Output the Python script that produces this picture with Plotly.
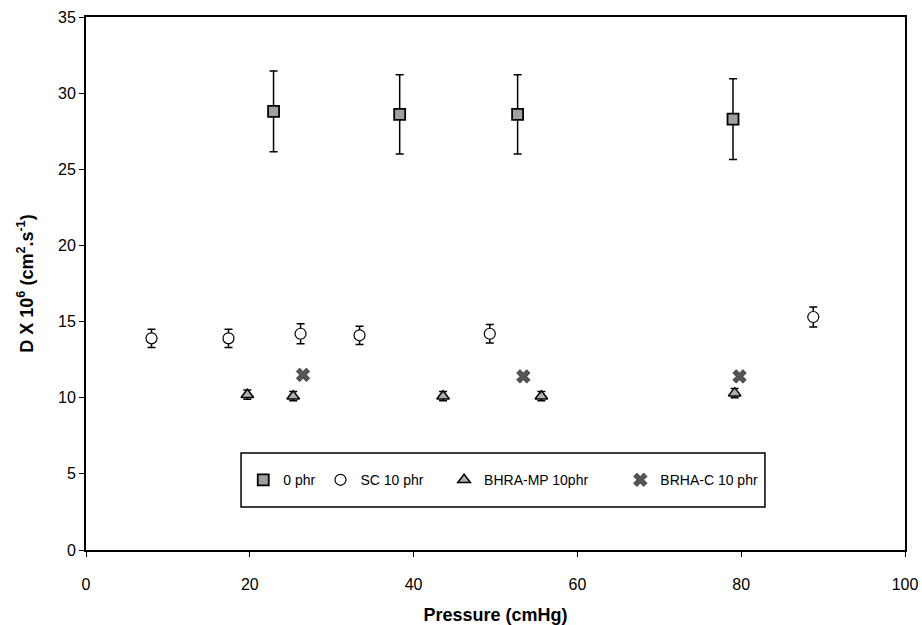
import plotly.graph_objects as go

# 0 phr
p0_x = [22.9, 38.3, 52.7, 79.0]
p0_y = [28.8, 28.6, 28.6, 28.3]
p0_err = [2.65, 2.6, 2.6, 2.65]

# SC 10 phr
sc_x = [8.0, 17.4, 26.2, 33.4, 49.3, 88.8]
sc_y = [13.9, 13.9, 14.2, 14.1, 14.2, 15.3]
sc_err = [0.6, 0.6, 0.65, 0.6, 0.6, 0.65]

# BHRA-MP 10phr
mp_x = [19.7, 25.3, 43.6, 55.6, 79.2]
mp_y = [10.2, 10.1, 10.1, 10.1, 10.3]
mp_err = [0.3, 0.3, 0.3, 0.3, 0.3]

# BRHA-C 10 phr
c_x = [26.5, 53.4, 79.8]
c_y = [11.5, 11.4, 11.4]

names = ["0 phr", "SC 10 phr", "BHRA-MP 10phr", "BRHA-C 10 phr"]
pad = ["", "\u00a0" * 4, "\u00a0" * 7, ""]

eb = dict(type="data", color="black", thickness=1.5, width=4)

fig = go.Figure()
fig.add_trace(go.Scatter(
    x=p0_x, y=p0_y, mode="markers", name=names[0] + pad[0],
    error_y=dict(array=p0_err, **eb),
    marker=dict(symbol="square", size=11, color="#a0a0a0", line=dict(color="black", width=1.8))))
fig.add_trace(go.Scatter(
    x=sc_x, y=sc_y, mode="markers", name=names[1] + pad[1],
    error_y=dict(array=sc_err, **eb),
    marker=dict(symbol="circle", size=11, color="white", line=dict(color="black", width=1.2))))
fig.add_trace(go.Scatter(
    x=mp_x, y=mp_y, mode="markers", name=names[2] + pad[2],
    error_y=dict(array=mp_err, **eb),
    marker=dict(symbol="triangle-up", size=11, color="#b0b0b0", line=dict(color="black", width=1.5))))
fig.add_trace(go.Scatter(
    x=c_x, y=c_y, mode="markers", name=names[3] + pad[3],
    marker=dict(symbol="x", size=12, color="#555555", line=dict(color="#222", width=0.6))))

font = "Liberation Sans, Arial, sans-serif"
fig.update_layout(
    width=922, height=625,
    margin=dict(l=86, r=17, t=17, b=75),
    paper_bgcolor="white", plot_bgcolor="white",
    font=dict(family=font, size=16, color="black"),
    showlegend=True,
    legend=dict(orientation="h", x=0.192, y=0.131, xanchor="left", yanchor="middle",
                borderwidth=0, bgcolor="rgba(0,0,0,0)",
                font=dict(size=14, family=font), itemwidth=30),
    shapes=[dict(type="rect", xref="paper", yref="paper",
                 x0=0.1893, x1=0.829, y0=0.0807, y1=0.182,
                 line=dict(color="black", width=1.5), fillcolor="white", layer="below")],
    xaxis=dict(range=[0, 100], tickvals=[0, 20, 40, 60, 80, 100], showgrid=False,
               zeroline=False, showline=True, linecolor="black", linewidth=1.8, mirror=True,
               ticks="outside", ticklen=5, tickcolor="black", ticklabelstandoff=14,
               automargin=False,
               title=dict(text="<b>Pressure (cmHg)</b>", font=dict(size=18, family=font), standoff=16)),
    yaxis=dict(range=[0, 35], tickvals=[0, 5, 10, 15, 20, 25, 30, 35], showgrid=False,
               zeroline=False, showline=True, linecolor="black", linewidth=1.8, mirror=True,
               ticks="outside", ticklen=5, tickcolor="black", automargin=False,
               title=dict(text="<b>D X 10<sup>6</sup> (cm<sup>2</sup>.s<sup>-1</sup>)</b>",
                          font=dict(size=18, family=font), standoff=20)),
)
fig.write_html("out.html", config={"displayModeBar": False},
               post_script="document.body.style.margin='0';document.body.style.overflow='hidden';")
